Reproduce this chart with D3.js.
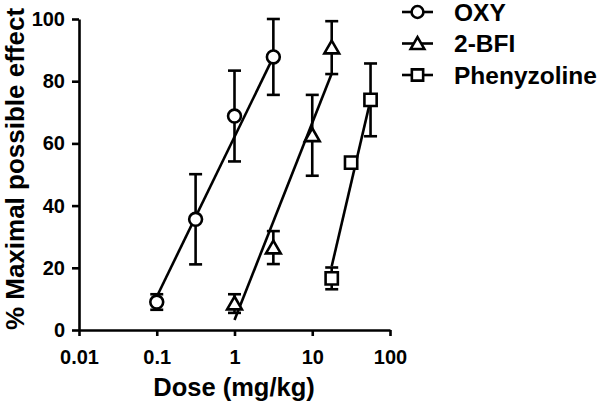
<!DOCTYPE html>
<html>
<head>
<meta charset="utf-8">
<script src="https://cdn.jsdelivr.net/npm/d3@7"></script>
<style>
  html, body { margin: 0; padding: 0; background: #fff; }
  svg { display: block; font-family: "Liberation Sans", Arial, Helvetica, sans-serif; font-weight: bold; }
</style>
</head>
<body>
<svg id="chart" width="600" height="403"></svg>
<script>
// ---- data ----
const seriesNames = ["OXY", "2-BFI", "Phenyzoline"];
const oxyDose = [0.1, 0.316, 1, 3.16];
const oxyMean = [9, 35.6, 68.8, 87.8];
const oxyErr  = [2.5, 14.5, 14.6, 12.2];
const bfiDose = [1, 3.16, 10, 17.8];
const bfiMean = [8.5, 26.5, 62.6, 90.8];
const bfiErr  = [3, 5.3, 13, 8.5];
const phenDose = [17.8, 31.6, 56.2];
const phenMean = [16.6, 53.8, 74];
const phenErr  = [3.5, 1.5, 11.7];
const oxyFitDose = [0.1, 3.16],  oxyFitVal = [10.7, 87.8];
const bfiFitDose = [1, 17.8],    bfiFitVal = [3.2, 82.5];
const phenFitDose = [17.8, 56.2], phenFitVal = [20.5, 74];
const xTicks = [0.01, 0.1, 1, 10, 100];
const xTickLabels = ["0.01", "0.1", "1", "10", "100"];
const yTicks = [0, 20, 40, 60, 80, 100];
const xTitle = "Dose (mg/kg)";
const yTitle = "% Maximal possible effect";

// ---- layout ----
const svg = d3.select("#chart");
const x = d3.scaleLog().domain([0.01, 100]).range([79, 390]);
const y = d3.scaleLinear().domain([0, 100]).range([330, 19]);
const SW = 2.6;

const series = [
  { name: seriesNames[0], dose: oxyDose, mean: oxyMean, err: oxyErr, fx: oxyFitDose, fy: oxyFitVal, sym: d3.symbolCircle },
  { name: seriesNames[1], dose: bfiDose, mean: bfiMean, err: bfiErr, fx: bfiFitDose, fy: bfiFitVal, sym: d3.symbolTriangle },
  { name: seriesNames[2], dose: phenDose, mean: phenMean, err: phenErr, fx: phenFitDose, fy: phenFitVal, sym: d3.symbolSquare }
];
const symSize = { "OXY": 130, "2-BFI": 95, "Phenyzoline": 150 };

// axes
const xAxis = d3.axisBottom(x).tickValues(xTicks).tickFormat((d, i) => xTickLabels[i]).tickSize(6).tickPadding(14).tickSizeOuter(0);
const yAxis = d3.axisLeft(y).tickValues(yTicks).tickSize(7).tickPadding(7).tickSizeOuter(0);

const gx = svg.append("g").attr("transform", "translate(0,330)").call(xAxis);
const gy = svg.append("g").attr("transform", "translate(79,0)").call(yAxis);
[gx, gy].forEach(g => {
  g.select(".domain").attr("stroke", "#000").attr("stroke-width", SW);
  g.selectAll(".tick line").attr("stroke", "#000").attr("stroke-width", SW);
  g.selectAll(".tick text").attr("fill", "#000").style("font-size", "20px").style("font-weight", "bold").style("font-family", "'Liberation Sans', Arial, sans-serif");
});

// titles
svg.append("text").attr("x", 234).attr("y", 396).attr("text-anchor", "middle")
  .style("font-size", "25.5px").text(xTitle);
svg.append("text").attr("transform", "translate(24,169) rotate(-90)").attr("text-anchor", "middle")
  .style("font-size", "26px").text(yTitle);

// series
const plot = svg.append("g");
series.forEach(s => {
  const line = d3.line().x(d => x(d[0])).y(d => y(d[1]));
  plot.append("path").datum(s.fx.map((v, i) => [v, s.fy[i]]))
    .attr("d", line).attr("fill", "none").attr("stroke", "#000").attr("stroke-width", SW);
  const g = plot.append("g");
  s.dose.forEach((d, i) => {
    const cx = x(d), top = y(Math.min(100, s.mean[i] + s.err[i])), bot = y(s.mean[i] - s.err[i]);
    g.append("line").attr("x1", cx).attr("x2", cx).attr("y1", top).attr("y2", bot).attr("stroke", "#000").attr("stroke-width", SW);
    [top, bot].forEach(yy => g.append("line").attr("x1", cx - 6.5).attr("x2", cx + 6.5).attr("y1", yy).attr("y2", yy).attr("stroke", "#000").attr("stroke-width", SW));
  });
  s.dose.forEach((d, i) => {
    g.append("path").attr("d", d3.symbol(s.sym, symSize[s.name])())
      .attr("transform", `translate(${x(d)},${y(s.mean[i]) + (s.sym === d3.symbolTriangle ? 1.5 : 0)})`)
      .attr("fill", "#fff").attr("stroke", "#000").attr("stroke-width", SW);
  });
});

// legend
const legend = svg.append("g");
series.forEach((s, i) => {
  const cy = 12 + i * 31.5;
  legend.append("line").attr("x1", 402).attr("x2", 433).attr("y1", cy).attr("y2", cy).attr("stroke", "#000").attr("stroke-width", SW);
  legend.append("path").attr("d", d3.symbol(s.sym, symSize[s.name] * 0.85)())
    .attr("transform", `translate(417.5,${cy + (s.sym === d3.symbolTriangle ? 1.5 : 0)})`)
    .attr("fill", "#fff").attr("stroke", "#000").attr("stroke-width", SW);
  legend.append("text").attr("x", 454).attr("y", cy + 8.5).style("font-size", "24.5px").text(s.name);
});
</script>
</body>
</html>
